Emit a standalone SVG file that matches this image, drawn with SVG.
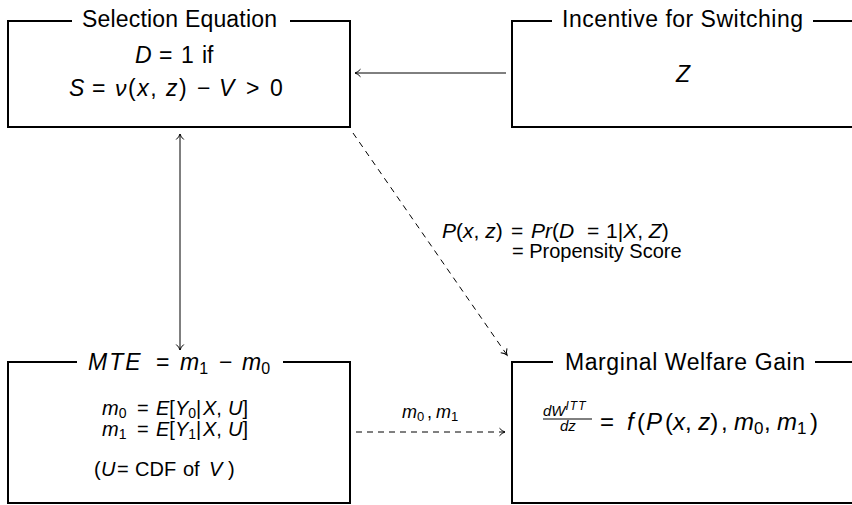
<svg xmlns="http://www.w3.org/2000/svg" width="852" height="505" viewBox="0 0 852 505">
<defs>
<marker id="ah" markerWidth="10" markerHeight="10" refX="8" refY="5" orient="auto-start-reverse" markerUnits="userSpaceOnUse">
<path d="M2.5,1.2 Q5,4.2 8,5 Q5,5.8 2.5,8.8" fill="none" stroke="#000" stroke-width="1"/>
</marker>
</defs>
<style>
.box{fill:#fff;stroke:#000;stroke-width:2}
.gap{fill:#fff;stroke:none}
.t{font-family:"Liberation Sans","DejaVu Sans",sans-serif;fill:#000}
.i{font-style:italic}
.ti{font-size:23px}
.m{font-size:23px}
.s{font-size:20px}
.c{stroke:#000;stroke-width:1;fill:none}
.d{stroke-dasharray:6 5}
</style>
<rect width="852" height="505" fill="#fff"/>

<g id="connectors">
<line class="c" x1="506" y1="73" x2="355" y2="73" marker-end="url(#ah)"/>
<line class="c" x1="180" y1="134" x2="180" y2="350" marker-start="url(#ah)" marker-end="url(#ah)"/>
<line class="c d" x1="353" y1="133" x2="507" y2="355" marker-end="url(#ah)"/>
<line class="c d" x1="356" y1="432" x2="505" y2="432" marker-end="url(#ah)"/>
<text class="t" y="418" font-size="18"><tspan class="i" x="402">m</tspan><tspan font-size="13" dy="3">0</tspan><tspan x="427" dy="-3">,</tspan><tspan class="i" x="436">m</tspan><tspan font-size="13" dy="3">1</tspan></text>
<text class="t" y="238" font-size="21"><tspan class="i" x="442">P</tspan>(<tspan class="i">x</tspan>, <tspan class="i">z</tspan>)<tspan x="511">=</tspan><tspan class="i" x="531">Pr</tspan>(<tspan class="i">D</tspan><tspan x="587">=</tspan><tspan x="606">1|</tspan><tspan class="i">X</tspan>, <tspan class="i">Z</tspan>)</text>
<text class="t s" x="512" y="258">= Propensity Score</text>
</g>

<g id="selection">
<rect class="box" x="8" y="21" width="342" height="106"/>
<rect class="gap" x="72" y="10" width="218" height="20"/>
<text class="t ti" x="82" y="27" textLength="195" lengthAdjust="spacing">Selection Equation</text>
<text class="t m" y="63"><tspan class="i" x="135">D</tspan><tspan x="159">=</tspan><tspan x="181">1</tspan><tspan x="202">if</tspan></text>
<text class="t m" y="96"><tspan class="i" x="69">S</tspan><tspan x="92">=</tspan><tspan x="115" letter-spacing="1.5"><tspan class="i">ν</tspan>(<tspan class="i">x</tspan>, <tspan class="i">z</tspan>)</tspan><tspan x="197">−</tspan><tspan class="i" x="219">V</tspan><tspan x="246">&gt;</tspan><tspan x="270">0</tspan></text>
</g>

<g id="incentive">
<rect class="box" x="512" y="21" width="360" height="106"/>
<rect class="gap" x="552" y="10" width="261" height="20"/>
<text class="t ti" x="562" y="27" textLength="241" lengthAdjust="spacing">Incentive for Switching</text>
<text class="t m i" x="683" y="82" text-anchor="middle">Z</text>
</g>

<g id="mte">
<rect class="box" x="8" y="362" width="342" height="141"/>
<rect class="gap" x="77" y="350" width="206" height="24"/>
<text class="t ti" y="370"><tspan class="i" x="88" letter-spacing="2">MTE</tspan><tspan x="156">=</tspan><tspan class="i" x="180">m</tspan><tspan font-size="16" dy="4">1</tspan><tspan x="219" dy="-4">−</tspan><tspan class="i" x="242">m</tspan><tspan font-size="16" dy="4">0</tspan></text>
<text class="t s" y="415"><tspan class="i" x="102">m</tspan><tspan font-size="14" dy="3">0</tspan><tspan x="137" dy="-3">=</tspan><tspan class="i" x="156">E</tspan>[<tspan class="i">Y</tspan><tspan font-size="14" dy="3">0</tspan><tspan dy="-3">|</tspan><tspan class="i" x="203">X</tspan>,<tspan class="i" x="228">U</tspan>]</text>
<text class="t s" y="436"><tspan class="i" x="102">m</tspan><tspan font-size="14" dy="3">1</tspan><tspan x="137" dy="-3">=</tspan><tspan class="i" x="156">E</tspan>[<tspan class="i">Y</tspan><tspan font-size="14" dy="3">1</tspan><tspan dy="-3">|</tspan><tspan class="i" x="203">X</tspan>,<tspan class="i" x="228">U</tspan>]</text>
<text class="t s" y="476"><tspan x="94">(</tspan><tspan class="i" x="101">U</tspan><tspan x="117">=</tspan><tspan x="135">CDF</tspan><tspan x="183">of</tspan><tspan class="i" x="209">V</tspan><tspan x="228">)</tspan></text>
</g>

<g id="welfare">
<rect class="box" x="512" y="362" width="360" height="141"/>
<rect class="gap" x="553" y="350" width="262" height="24"/>
<text class="t ti" x="565" y="370" textLength="240" lengthAdjust="spacing">Marginal Welfare Gain</text>
<text class="t i" x="543" y="416" font-size="15">dW<tspan font-size="12" dy="-6" letter-spacing="1">ITT</tspan></text>
<line x1="543" y1="419" x2="592" y2="419" stroke="#000" stroke-width="1"/>
<text class="t i" x="560" y="431" font-size="15">dz</text>
<text class="t" y="430" font-size="24"><tspan x="600">=</tspan><tspan class="i" x="627">f</tspan><tspan x="637">(</tspan><tspan class="i" x="646">P</tspan><tspan x="665">(</tspan><tspan class="i">x</tspan>, <tspan class="i">z</tspan>)<tspan x="721">,</tspan><tspan class="i" x="734">m</tspan><tspan font-size="17" dy="4">0</tspan><tspan x="764" dy="-4">,</tspan><tspan class="i" x="777">m</tspan><tspan font-size="17" dy="4">1</tspan><tspan x="810" dy="-4">)</tspan></text>
</g>
</svg>
